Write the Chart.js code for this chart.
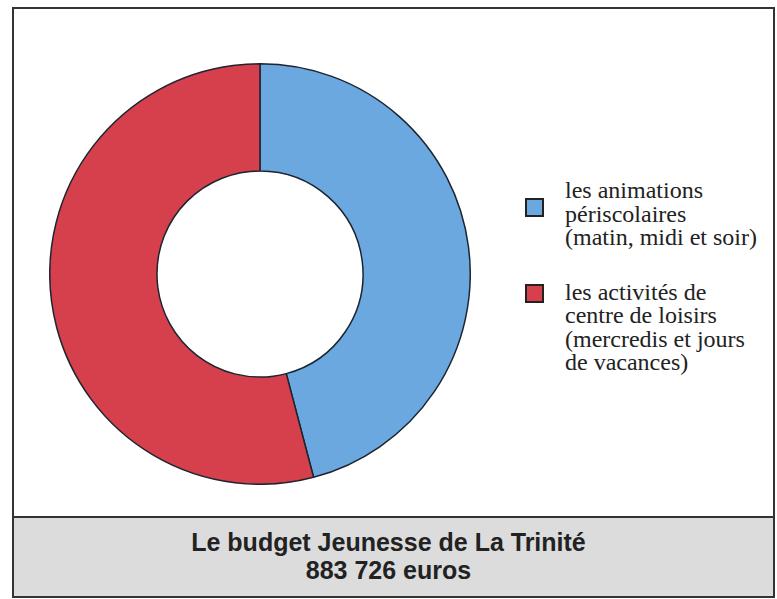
<!DOCTYPE html>
<html>
<head>
<meta charset="utf-8">
<script src="https://cdn.jsdelivr.net/npm/chart.js@4"></script>
<style>
  body { margin: 0; background: #fff; }
  #frame { position: absolute; left: 12px; top: 7px; width: 759px; height: 587px; border: 2px solid #333; background: #fff; }
  #chartBox { position: absolute; left: 35px; top: 54px; }
  #legend { position: absolute; left: 511px; top: 170px; font-family: "Liberation Serif", "Times New Roman", serif; font-size: 24px; line-height: 23.5px; color: #222; }
  .item { display: flex; align-items: flex-start; }
  .box { width: 15px; height: 15px; border: 2px solid #222; margin-right: 21px; flex: none; }
  #panel { position: absolute; left: 0; right: 0; bottom: 0; height: 78px; background: #dcdcdd; border-top: 2px solid #333; }
  #title { position: absolute; left: 0; right: 10px; top: 10px; text-align: center;
           font-family: "Liberation Sans Narrow", "Liberation Sans", sans-serif; font-weight: bold; font-size: 25px; line-height: 28px; color: #222; }
</style>
</head>
<body>
<div id="frame">
  <div id="chartBox"><canvas id="donut" width="422" height="422"></canvas></div>
  <div id="legend"></div>
  <div id="panel"><div id="title"></div></div>
</div>
<script>
// budget share (%)
const labels = [
  ['les animations', 'périscolaires', '(matin, midi et soir)'],
  ['les activités de', 'centre de loisirs', '(mercredis et jours', 'de vacances)']
];
const shares = [45.9, 54.1];
const colors = ['#6aa8df', '#d63f4c'];
const titleLines = ['Le budget Jeunesse de La Trinité', '883 726 euros'];

const ctx = document.getElementById('donut').getContext('2d');
new Chart(ctx, {
  type: 'doughnut',
  data: {
    labels: labels.map(l => l.join(' ')),
    datasets: [{
      data: shares,
      backgroundColor: colors,
      borderColor: '#1c2530',
      borderWidth: 1.5
    }]
  },
  options: {
    responsive: false,
    animation: false,
    cutout: '49%',
    plugins: { legend: { display: false }, tooltip: { enabled: false } }
  }
});

const legend = document.getElementById('legend');
const boxOffsets = [19, 3];
const gaps = [0, 31];
labels.forEach((lines, i) => {
  const item = document.createElement('div');
  item.className = 'item';
  item.style.marginTop = gaps[i] + 'px';
  const box = document.createElement('div');
  box.className = 'box';
  box.style.background = colors[i];
  box.style.marginTop = boxOffsets[i] + 'px';
  const txt = document.createElement('div');
  txt.innerHTML = lines.join('<br>');
  item.appendChild(box);
  item.appendChild(txt);
  legend.appendChild(item);
});

document.getElementById('title').innerHTML = titleLines.join('<br>');
</script>
</body>
</html>
